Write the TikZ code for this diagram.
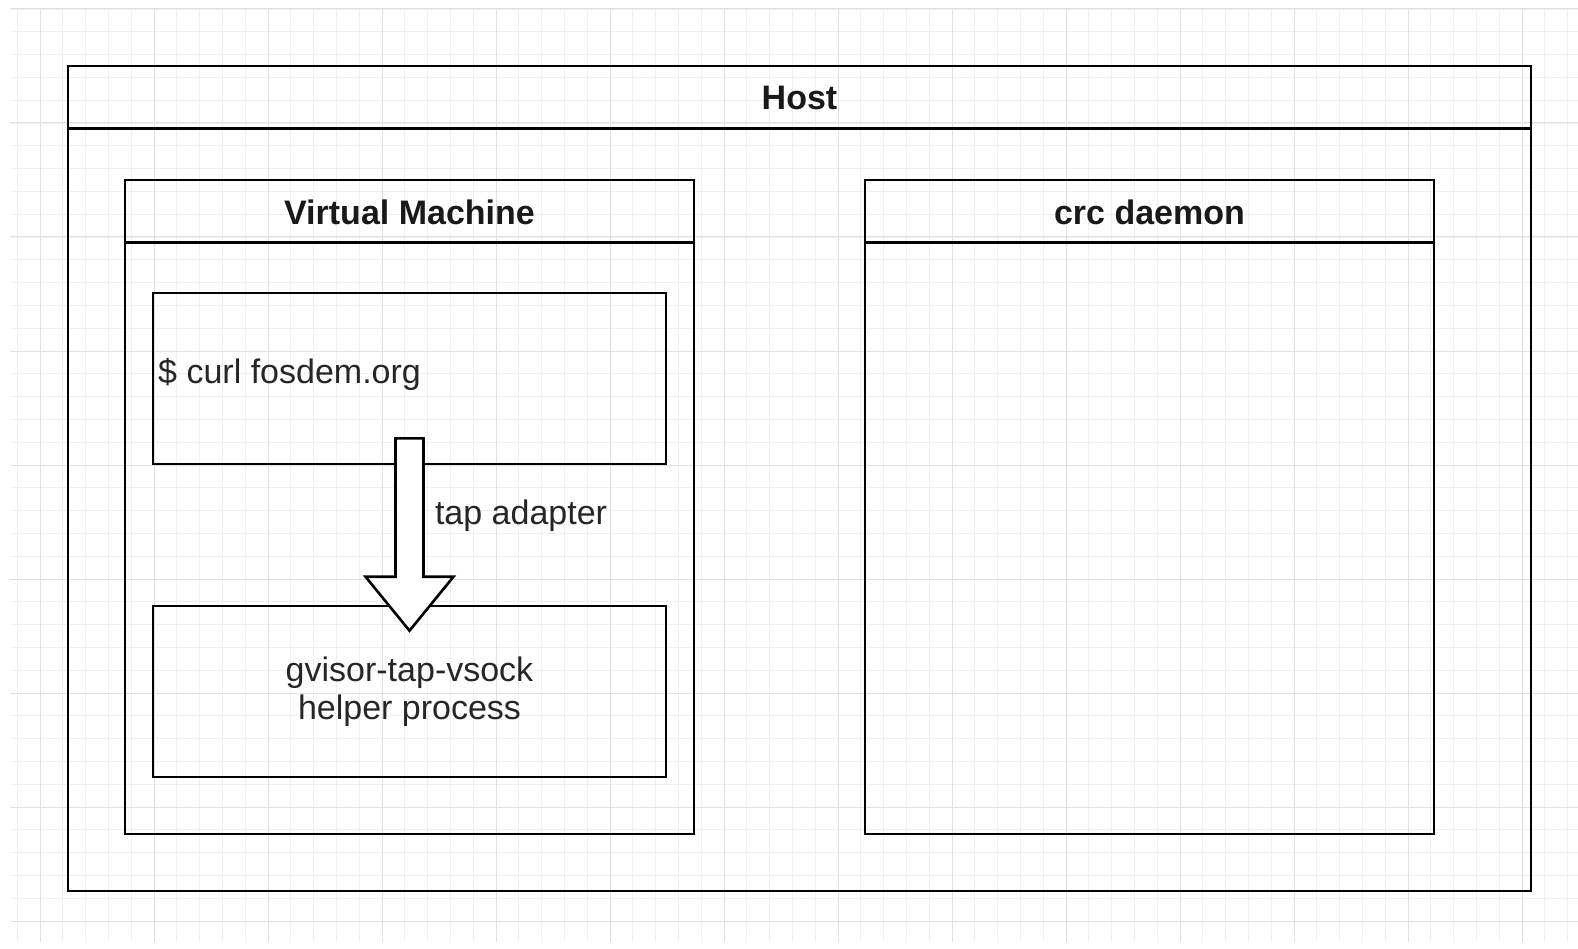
\documentclass[tikz,border=0pt]{standalone}
\usepackage{fontspec}
\setmainfont{Liberation Sans}
\usetikzlibrary{calc,positioning}

\tikzset{
  frame/.style={draw,line width=2.6pt,inner sep=0pt},
  title/.style={font=\fontsize{34}{40}\selectfont\bfseries,text=black!90},
  label/.style={font=\fontsize{34}{40}\selectfont,text=black!85},
  bigarrow/.style={draw,line width=2.6pt,fill=white,line join=miter}
}

\begin{document}
\begin{tikzpicture}[x=1pt,y=-1pt]
\useasboundingbox (0,0) rectangle (1578,949);
% background grid
\fill[white] (0,0) rectangle (1578,949);
\foreach \i in {-1,...,68}
  \draw[black!6,line width=0.8pt] ({40+22.8*\i},8) -- ({40+22.8*\i},942);
\foreach \i in {-5,...,35}
  \draw[black!6,line width=0.8pt] (10,{123+22.8*\i}) -- (1578,{123+22.8*\i});
\foreach \i in {0,...,13}
  \draw[black!12,line width=1pt] ({40+114*\i},8) -- ({40+114*\i},942);
\foreach \i in {-1,...,7}
  \draw[black!12,line width=1pt] (10,{123+114*\i}) -- (1578,{123+114*\i});

% host
\node[frame,minimum width=1463,minimum height=825] (host) at (799.5,478.5) {};
\draw[line width=2.6pt] ([yshift=-64pt]host.north west) -- ([yshift=-64pt]host.north east);
\node[title] at ([yshift=-33pt]host.north) {Host};

% virtual machine
\node[frame,minimum width=569,minimum height=654] (vm) at (409.5,507) {};
\draw[line width=2.6pt] ([yshift=-64pt]vm.north west) -- ([yshift=-64pt]vm.north east);
\node[title] at ([yshift=-34pt]vm.north) {Virtual Machine};

% crc daemon
\node[frame,minimum width=569,minimum height=654] (crc) at (1149.5,507) {};
\draw[line width=2.6pt] ([yshift=-64pt]crc.north west) -- ([yshift=-64pt]crc.north east);
\node[title] at ([yshift=-34pt]crc.north) {crc daemon};

% processes
\node[frame,minimum width=513,minimum height=171] (curl) at (409.5,378.5) {};
\node[label,anchor=west] at ([xshift=3pt,yshift=4pt]curl.west) {\$ curl fosdem.org};
\node[frame,minimum width=513,minimum height=171,label,align=center] (helper) at (409.5,691.5)
  {gvisor-tap-vsock\\[-2pt]helper process};

% tap adapter arrow
\coordinate (atop) at ([yshift=27pt]curl.south);
\coordinate (atip) at ([yshift=-26pt]helper.north);
\draw[bigarrow] ($(atop)+(-14,0)$) -- ($(atop)+(14,0)$) -- ($(atip)+(14,-54)$)
  -- ($(atip)+(44,-54)$) -- (atip) -- ($(atip)+(-44,-54)$) -- ($(atip)+(-14,-54)$) -- cycle;
\node[label,anchor=west] at ($(atop)!0.4!(atip)+(22,0)$) {tap adapter};
\end{tikzpicture}
\end{document}
